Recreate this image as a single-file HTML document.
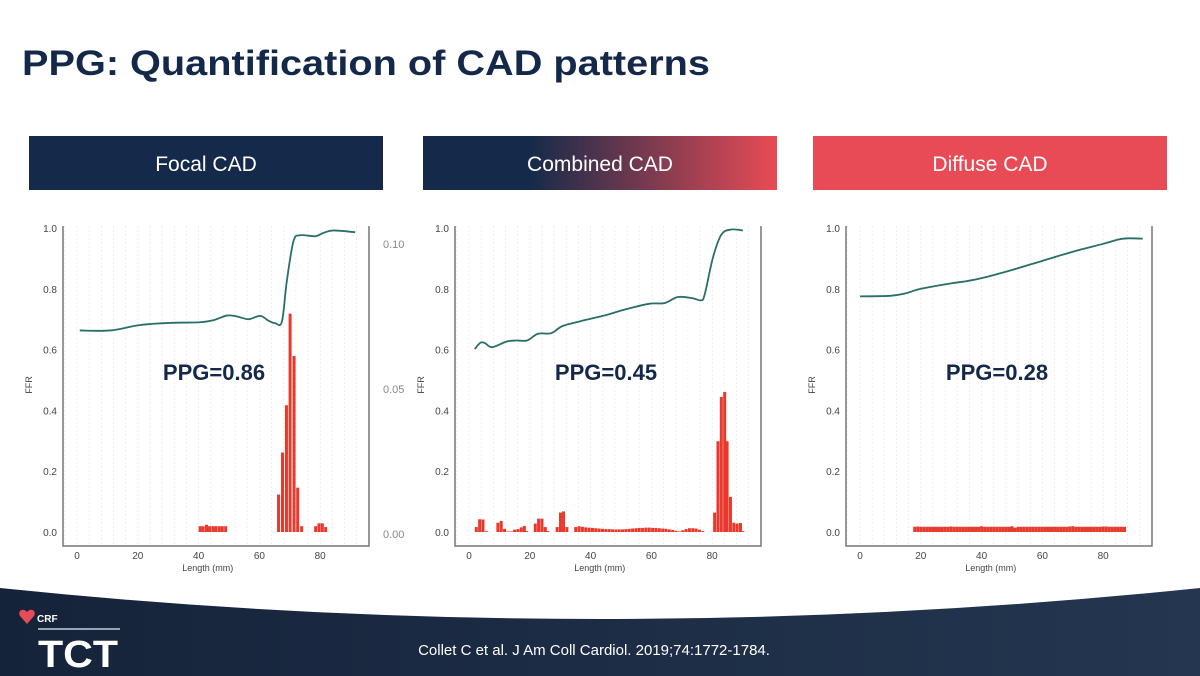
<!DOCTYPE html>
<html><head><meta charset="utf-8"><style>
html,body{margin:0;padding:0;background:#fff;}
svg{display:block;font-family:"Liberation Sans",sans-serif;}
</style></head><body>
<svg id="s" width="1200" height="676" viewBox="0 0 1200 676">
<defs>
<linearGradient id="g2" x1="0" x2="1" y1="0" y2="0"><stop offset="0.3" stop-color="#152a4a"/><stop offset="1" stop-color="#e84b55"/></linearGradient>
<linearGradient id="gf" x1="0" x2="1"><stop offset="0" stop-color="#15233a"/><stop offset="1" stop-color="#243650"/></linearGradient>
</defs>
<text x="22" y="75" font-size="35" font-weight="bold" fill="#14294a" textLength="688" lengthAdjust="spacingAndGlyphs">PPG: Quantification of CAD patterns</text>
<rect x="29" y="136" width="354" height="54" fill="#152a4a"/>
<text x="206" y="171" font-size="21" fill="#fff" text-anchor="middle">Focal CAD</text>
<rect x="423" y="136" width="354" height="54" fill="url(#g2)"/>
<text x="600" y="171" font-size="21" fill="#fff" text-anchor="middle">Combined CAD</text>
<rect x="813" y="136" width="354" height="54" fill="#e84b55"/>
<text x="990" y="171" font-size="21" fill="#fff" text-anchor="middle">Diffuse CAD</text>
<g id="charts"></g>
<path d="M0,588 Q600,650 1200,588 L1200,676 L0,676 Z" fill="url(#gf)"/>
<path d="M27,612 c-4,-5 -10,-1 -7,4 l7,8 l7,-8 c3,-5 -3,-9 -7,-4z" fill="#e84b55"/>
<text x="37" y="622" font-size="10" fill="#fff" font-weight="bold">CRF</text>
<rect x="38" y="628" width="82" height="2" fill="#9aa3b0"/>
<text x="38" y="667" font-size="38" fill="#fff" font-weight="bold" textLength="80" lengthAdjust="spacingAndGlyphs">TCT</text>
<text x="594" y="655" font-size="15" fill="#fff" text-anchor="middle">Collet C et al. J Am Coll Cardiol. 2019;74:1772-1784.</text>
</svg>
<script>
// Focal
const focalCurveX=[0.9,11,20.8,30.7,40.5,45,49.3,52.6,56.4,60.3,63,65.2,67.4,69,71.2,73.4,78.4,81.1,84.4,91.5];
const focalCurveY=[0.663,0.663,0.681,0.688,0.690,0.697,0.712,0.709,0.700,0.711,0.695,0.687,0.692,0.824,0.956,0.976,0.973,0.984,0.992,0.986];
const focalBarX=[40.5,41.5,42.6,43.6,44.7,45.7,46.8,47.8,48.9,66.3,67.6,68.9,70.1,71.4,72.6,73.9,78.5,79.6,80.7,81.8];
const focalBarY=[0.002,0.002,0.0025,0.002,0.002,0.002,0.002,0.002,0.002,0.0129,0.0274,0.0437,0.0753,0.0607,0.0153,0.002,0.002,0.003,0.003,0.0017];
// Combined
const combCurveX=[1.9,3.8,5.3,7.6,12.2,15.6,19.1,22.7,27.1,30.9,38.6,45.2,51.7,59.4,64.3,68.7,73.6,76.2,77.5,80.2,83,86.2,90.1];
const combCurveY=[0.602,0.623,0.621,0.608,0.626,0.630,0.630,0.652,0.654,0.678,0.698,0.714,0.733,0.751,0.753,0.773,0.769,0.762,0.780,0.901,0.978,0.995,0.992];
const combBarX=[2.4,3.5,4.6,5.7,9.5,10.6,11.7,12.8,13.9,15,16.1,17.2,18.2,19,21.8,22.9,24,25.1,26,29,30.1,31.1,32.2,35.1,36.2,37.3,38.4,39.5,40.6,41.7,42.8,43.9,45,46.1,47.2,48.3,49.4,50.5,51.6,52.7,53.8,54.9,56,57.1,58.2,59.3,60.4,61.5,62.6,63.7,64.8,65.9,67,68.1,69.2,70.3,71.4,72.5,73.6,74.7,75.8,76.9,80.8,81.9,83,84.1,84.9,86,87.1,88.2,89.3,90.1];
const combBarY=[0.0017,0.0044,0.0043,0.0003,0.0032,0.0038,0.0011,0.0002,0.0002,0.0008,0.001,0.0016,0.0021,0.0003,0.0029,0.0046,0.0046,0.0017,0.0003,0.0017,0.0067,0.0071,0.0017,0.0017,0.002,0.0018,0.0016,0.0015,0.0014,0.0013,0.0012,0.0011,0.001,0.001,0.0009,0.0009,0.0009,0.0009,0.001,0.0011,0.0012,0.0013,0.0014,0.0014,0.0015,0.0015,0.0014,0.0014,0.0013,0.0012,0.0011,0.0009,0.0007,0.0004,0.0002,0.0006,0.001,0.0013,0.0013,0.0012,0.0008,0.0003,0.0067,0.0313,0.0466,0.0483,0.0313,0.0121,0.0032,0.0029,0.0031,0.0003];
// Diffuse
const diffCurveX=[0,10,15,20,30,35,40,50,60,70,80,85,88,93];
const diffCurveY=[0.775,0.777,0.785,0.800,0.818,0.825,0.835,0.862,0.892,0.922,0.948,0.962,0.966,0.965];
const diffBarX=[18,19,20,21,22,23,24,25,26,27,28,29,30,31,32,33,34,35,36,37,38,39,40,41,42,43,44,45,46,47,48,49,50,51,52,53,54,55,56,57,58,59,60,61,62,63,64,65,66,67,68,69,70,71,72,73,74,75,76,77,78,79,80,81,82,83,84,85,86,87];
const diffBarY=[0.0018,0.0019,0.0018,0.0018,0.0018,0.0018,0.0018,0.0018,0.0018,0.0018,0.0018,0.0018,0.0019,0.0018,0.0018,0.0018,0.0018,0.0018,0.0018,0.0018,0.0018,0.0018,0.002,0.0018,0.0018,0.0018,0.0018,0.0018,0.0018,0.0018,0.0018,0.0018,0.002,0.0015,0.0018,0.0018,0.0018,0.0018,0.0018,0.0018,0.0018,0.0018,0.0018,0.0018,0.0018,0.0018,0.0018,0.0018,0.0018,0.0018,0.0018,0.0019,0.002,0.0018,0.0018,0.0018,0.0018,0.0018,0.0018,0.0018,0.0018,0.0018,0.0019,0.0019,0.0018,0.0018,0.0018,0.0018,0.0018,0.0018];
const xTicks=[0,20,40,60,80];
const yTicks=[0,0.2,0.4,0.6,0.8,1.0];
const y2Ticks=[0,0.05,0.10];
const ppgLabels=["PPG=0.86","PPG=0.45","PPG=0.28"];

const NS="http://www.w3.org/2000/svg";
const root=document.getElementById('charts');
function mk(tag,attrs,parent){const e=document.createElementNS(NS,tag);for(const k in attrs)e.setAttribute(k,attrs[k]);(parent||root).appendChild(e);return e;}
function smooth(pts){let d="M"+pts[0][0]+","+pts[0][1];for(let i=0;i<pts.length-1;i++){const p0=pts[Math.max(0,i-1)],p1=pts[i],p2=pts[i+1],p3=pts[Math.min(pts.length-1,i+2)];const c1x=p1[0]+(p2[0]-p0[0])/6,c1y=p1[1]+(p2[1]-p0[1])/6,c2x=p2[0]-(p3[0]-p1[0])/6,c2y=p2[1]-(p3[1]-p1[1])/6;d+=` C${c1x},${c1y} ${c2x},${c2y} ${p2[0]},${p2[1]}`;}return d;}
const panels=[
 {off:0,cx:focalCurveX,cy:focalCurveY,bx:focalBarX,by:focalBarY,right:true},
 {off:392,cx:combCurveX,cy:combCurveY,bx:combBarX,by:combBarY,right:false},
 {off:783,cx:diffCurveX,cy:diffCurveY,bx:diffBarX,by:diffBarY,right:false}];
panels.forEach((p,i)=>{
 const g=mk('g',{});
 
 
 const X=mm=>77+p.off+mm*3.04;
 const Y=v=>532-v*304;
 const YB=v=>532-v*2900;
 const left=63+p.off,right=369+p.off,top=226,bottom=546;
 for(let m=-4;m<=96;m+=4){const x=X(m);if(x<=left||x>=right)continue;
  const l=mk('line',{x1:x,x2:x,y1:top,y2:bottom,stroke:'#ebebeb','stroke-width':0.8,'stroke-dasharray':'2,2'},g);
  
  }
 const ax=mk('path',{d:`M${left},${top} V${bottom} H${right} V${top}`,fill:'none',stroke:'#777','stroke-width':1.5},g);
 
 
 xTicks.forEach(t=>{const e=mk('text',{x:X(t),y:559,'font-size':10,fill:'#444','text-anchor':'middle'},g);e.textContent=t;
  
  });
 yTicks.forEach(t=>{const e=mk('text',{x:left-6,y:Y(t)+4,'font-size':10,fill:'#444','text-anchor':'end'},g);e.textContent=t.toFixed(1);
  
  });
 if(p.right){y2Ticks.forEach(t=>{const e=mk('text',{x:383,y:YB(t)+6,'font-size':11,fill:'#888'},g);e.textContent=t.toFixed(2);
  
  });}
 const xl=mk('text',{x:X(43),y:571,'font-size':9,fill:'#444','text-anchor':'middle'},g);xl.textContent='Length (mm)';
 
 
 const yl=mk('text',{x:0,y:0,'font-size':9,fill:'#444','text-anchor':'middle',transform:`translate(${left-31},385) rotate(-90)`},g);yl.textContent='FFR';
 
 
 p.bx.forEach((m,j)=>{const h=532-YB(p.by[j]);const r=mk('rect',{x:X(m)-1.5,y:YB(p.by[j]),width:3,height:Math.max(h,0.5),fill:'#e8392c'},g);
  
  });
 const pts=p.cx.map((m,j)=>[X(m),Y(p.cy[j])]);
 const c=mk('path',{d:smooth(pts),fill:'none',stroke:'#2a6e68','stroke-width':1.8},g);
 
 
 const pl=mk('text',{x:214+p.off,y:380,'font-size':22,'font-weight':'bold',fill:'#14294a','text-anchor':'middle'},g);pl.textContent=ppgLabels[i];
 
 
});
</script>
</body></html>
